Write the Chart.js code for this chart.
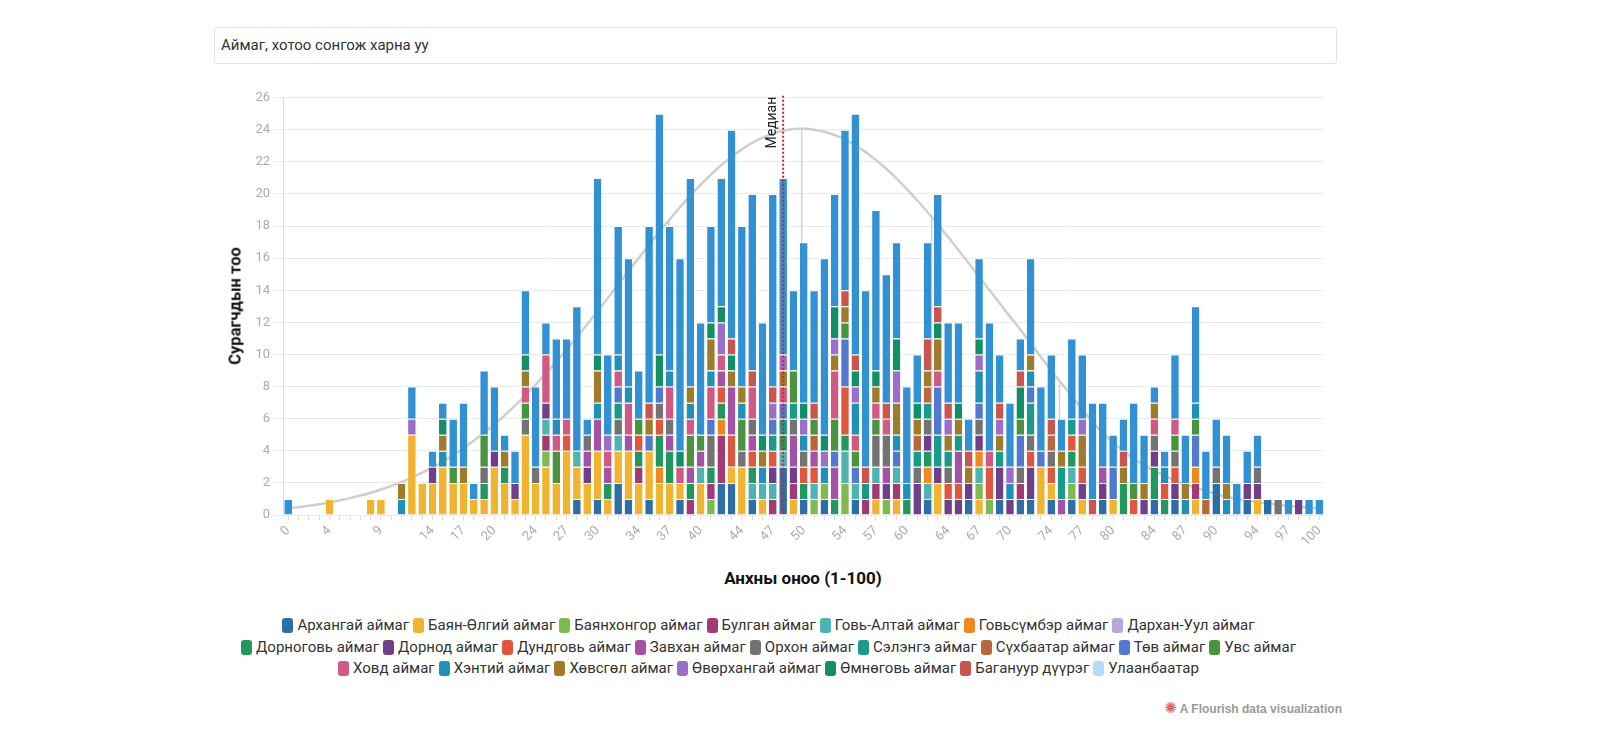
<!DOCTYPE html>
<html><head><meta charset="utf-8">
<script src="https://cdn.jsdelivr.net/npm/chart.js@4.4.0/dist/chart.umd.min.js"></script>
<style>
html,body{margin:0;padding:0;background:#fff;width:1600px;height:738px;overflow:hidden;font-family:Roboto,"Noto Sans",sans-serif;}
#filter{position:absolute;left:214px;top:27px;width:1123px;height:37px;border:1px solid #e4e4e4;border-radius:3px;box-sizing:border-box;font-size:15px;line-height:35px;padding-left:6px;color:#333;}
#wrap{position:absolute;left:214px;top:80px;width:1123px;height:470px;}
#ytitle{position:absolute;left:235px;top:306px;transform:translate(-50%,-50%) rotate(-90deg);font-weight:bold;font-size:16.5px;color:#111;white-space:nowrap;}
#xtitle{position:absolute;left:803px;top:578px;transform:translate(-50%,-50%);font-weight:bold;font-size:17px;color:#111;white-space:nowrap;}
#legend{position:absolute;left:207px;top:615px;width:1123px;font-size:15px;color:#333;}
.row{display:flex;justify-content:center;height:21.5px;line-height:21.5px;}
.item{display:flex;align-items:center;margin:0 2px;white-space:nowrap;}
.sw{display:inline-block;width:11px;height:15px;border-radius:3px;margin-right:4px;}
#foot{position:absolute;right:258px;top:699px;font-family:"Liberation Sans",Arial,sans-serif;font-weight:bold;font-size:12px;color:#9a9a9a;}
#foot span{color:#e06060;font-family:"DejaVu Sans";font-size:15px;margin-right:3px;}
</style></head>
<body>
<div id="filter">Аймаг, хотоо сонгож харна уу</div>
<div id="wrap"><canvas id="c" width="1123" height="470"></canvas></div>
<div id="ytitle">Сурагчдын тоо</div>
<div id="xtitle">Анхны оноо (1-100)</div>
<div id="legend"></div>
<div id="foot"><span>✺</span>A Flourish data visualization</div>
<script>
const scores = [0,1,2,3,4,5,6,7,8,9,10,11,12,13,14,15,16,17,18,19,20,21,22,23,24,25,26,27,28,29,30,31,32,33,34,35,36,37,38,39,40,41,42,43,44,45,46,47,48,49,50,51,52,53,54,55,56,57,58,59,60,61,62,63,64,65,66,67,68,69,70,71,72,73,74,75,76,77,78,79,80,81,82,83,84,85,86,87,88,89,90,91,92,93,94,95,96,97,98,99,100];
const shownTicks = [0,4,9,14,17,20,24,27,30,34,37,40,44,47,50,54,57,60,64,67,70,74,77,80,84,87,90,94,97,100];

// [score, count] per region
const arkhangai = [[28,1],[30,1],[32,2],[33,1],[35,1],[38,1],[42,2],[43,2],[45,1],[48,3],[50,1],[52,1],[55,1],[62,1],[66,1],[69,1],[71,1],[72,1],[74,1],[76,1],[79,1],[84,1],[86,1],[90,2],[93,1],[95,1]];
const bayanOlgii = [[4,1],[8,1],[9,1],[12,5],[13,2],[14,2],[15,3],[16,2],[17,2],[18,1],[19,1],[20,3],[21,2],[22,1],[23,5],[24,2],[25,3],[26,2],[27,4],[28,2],[29,2],[30,3],[31,1],[32,2],[33,3],[34,2],[35,3],[36,2],[37,2],[38,1],[40,2],[43,1],[44,3],[46,1],[49,1],[57,1],[59,1],[63,2],[67,1],[73,3],[74,1],[77,1],[80,1],[88,1],[94,1]];
const bayankhongor = [[25,1],[41,1],[51,1],[52,1],[54,2],[58,1],[67,1],[68,1],[76,1]];
const bulgan = [[25,1],[34,1],[39,1],[41,1],[42,3],[47,1],[49,1],[56,1],[57,1],[59,1],[71,1],[88,1]];
const goviAltai = [[25,1],[28,1],[32,1],[40,1],[45,1],[46,1],[47,1],[48,1],[51,1],[54,2],[55,1],[57,1],[59,1],[62,1],[67,1],[76,1]];
const govisumber = [[36,1],[42,1],[62,1],[67,1],[88,1]];
const darkhanUul = [];
const dornogovi = [[19,1],[21,1],[31,1],[34,1],[36,2],[37,2],[39,1],[41,1],[42,1],[45,1],[48,1],[50,1],[53,1],[54,1],[60,1],[62,1],[76,1],[81,2],[84,2],[85,1]];
const dornod = [[14,1],[20,1],[22,1],[25,1],[29,1],[47,1],[49,1],[58,1],[61,2],[62,1],[63,1],[64,1],[65,1],[66,1],[67,1],[69,2],[70,1],[72,2],[77,1],[79,1],[83,1],[84,1],[86,1],[93,1],[94,1],[98,1]];
const dundgovi = [[27,1],[34,1],[36,1],[42,1],[43,2],[45,1],[47,1],[50,1],[51,1],[54,3],[64,1],[65,1],[68,2],[72,1],[74,1],[76,1],[77,1],[82,1],[85,1],[86,1]];
const zavkhan = [[29,1],[30,2],[31,1],[33,1],[37,1],[39,1],[40,1],[42,1],[43,3],[45,1],[49,2],[51,1],[53,2],[58,1],[65,2],[75,1],[79,1]];
const orkhon = [[19,1],[23,1],[24,1],[29,1],[32,1],[36,1],[37,1],[41,2],[44,1],[45,1],[49,1],[50,1],[57,2],[58,2],[61,1],[62,1],[64,1],[67,1],[71,1],[72,1],[74,1],[84,1],[86,1],[90,1],[94,1],[96,1]];
const selenge = [[32,1],[47,1],[48,1],[49,1],[56,1],[61,1],[62,1],[63,2],[64,1],[65,1],[69,1],[72,2],[75,2],[76,1]];
const sukhbaatar = [[51,1],[61,1],[62,1],[74,1],[89,1]];
const tov = [[32,1],[35,1],[36,1],[41,1],[47,1],[48,1],[53,1],[54,3],[55,1],[59,1],[63,3],[67,1],[71,2],[72,1],[73,1],[80,2],[88,2]];
const uvs = [[16,1],[19,2],[23,1],[26,2],[34,1],[39,2],[40,1],[44,2],[49,2],[51,1],[53,2],[54,1],[55,1],[57,1],[71,1],[82,1],[86,1],[88,1]];
const khovd = [[23,1],[25,3],[26,1],[27,1],[31,1],[32,1],[33,2],[37,2],[38,1],[39,1],[41,2],[42,1],[45,2],[48,1],[53,3],[55,1],[57,1],[58,1],[63,1],[68,1],[84,1],[86,1]];
const khentii = [[11,1],[15,1],[26,1],[30,1],[32,1],[33,1],[37,1],[39,1],[41,1],[44,1],[46,1],[50,1],[52,1],[55,2],[59,1],[60,1],[67,2],[70,1],[72,1],[85,1],[87,1],[88,1],[91,1]];
const khovsgol = [[11,1],[15,1],[17,1],[21,1],[23,1],[30,2],[35,1],[39,1],[41,2],[43,1],[44,1],[46,1],[48,1],[53,1],[54,1],[57,1],[59,2],[61,1],[62,1],[63,2],[64,1],[65,1],[66,1],[69,1],[72,1],[75,1],[77,2],[81,1],[83,1],[84,1],[87,1],[91,1]];
const ovorkhangai = [[12,1],[31,1],[42,2],[47,1],[48,1],[50,1],[52,1],[53,1],[55,1],[59,2],[64,1],[67,1],[69,1],[70,1],[77,1]];
const omnogovi = [[15,1],[23,1],[30,1],[36,2],[38,1],[41,1],[42,1],[43,1],[46,1],[50,1],[52,1],[53,2],[55,1],[57,1],[59,2],[61,1],[63,1],[65,1],[67,1],[71,2]];
const baganuur = [[35,1],[43,1],[45,1],[47,1],[51,1],[54,1],[55,1],[56,1],[58,1],[62,2],[63,1],[64,1],[66,1],[69,1],[71,1],[74,1],[78,1],[81,1]];
const ulaanbaatar = [[0,1],[12,2],[14,1],[15,1],[16,3],[17,4],[18,1],[19,4],[20,4],[21,1],[22,2],[23,4],[24,5],[25,2],[26,5],[27,5],[28,9],[29,1],[30,11],[31,5],[32,8],[33,8],[34,3],[35,11],[36,15],[37,9],[38,12],[39,13],[40,7],[41,6],[42,8],[43,13],[44,10],[45,11],[46,7],[47,12],[48,11],[49,5],[50,10],[51,7],[52,11],[53,7],[54,10],[55,15],[56,11],[57,10],[58,8],[59,6],[60,6],[61,3],[62,6],[63,7],[64,5],[65,5],[66,2],[67,5],[68,8],[69,3],[70,4],[71,2],[72,6],[73,4],[74,4],[75,2],[76,5],[77,4],[78,6],[79,4],[80,2],[81,2],[82,5],[83,3],[84,1],[85,1],[86,4],[87,3],[88,6],[89,3],[90,3],[91,3],[92,2],[93,2],[94,2],[97,1],[99,1],[100,1]];

// fitted curve
const curveValues = [0.42,0.49,0.58,0.67,0.78,0.91,1.05,1.21,1.39,1.59,
1.81,2.06,2.33,2.64,2.97,3.33,3.73,4.16,4.62,5.12,
5.65,6.21,6.81,7.45,8.12,8.82,9.55,10.30,11.08,11.88,
12.69,13.52,14.35,15.18,16.01,16.83,17.64,18.42,19.18,19.90,
20.58,21.21,21.80,22.32,22.78,23.18,23.51,23.76,23.94,24.05,
24.07,24.01,23.88,23.67,23.39,23.03,22.61,22.12,21.57,20.96,
20.31,19.61,18.88,18.11,17.32,16.51,15.68,14.85,14.02,13.19,
12.36,11.56,10.7,9.85,9.0,8.2,7.4,6.6,5.8,5.1,
4.5,4.0,3.5,3.1,2.75,2.45,2.15,1.9,1.7,1.5,
1.3,1.15,1.0,0.9,0.8,0.72,0.65,0.57,0.51,0.46,0.42];
const guideX = [36.9, 49.8, 62.4, 74.8];
const medianScore = 48;

const regionNames = ["Архангай аймаг","Баян-Өлгий аймаг","Баянхонгор аймаг","Булган аймаг","Говь-Алтай аймаг","Говьсүмбэр аймаг","Дархан-Уул аймаг","Дорноговь аймаг","Дорнод аймаг","Дундговь аймаг","Завхан аймаг","Орхон аймаг","Сэлэнгэ аймаг","Сүхбаатар аймаг","Төв аймаг","Увс аймаг","Ховд аймаг","Хэнтий аймаг","Хөвсгөл аймаг","Өвөрхангай аймаг","Өмнөговь аймаг","Багануур дүүрэг","Улаанбаатар"];
const regionColors = ["#2d6ea6","#f0b430","#7fba4e","#a23a76","#4fb3b0","#ec8a1f","#b3aad9","#24975f","#6f3f8a","#e0573f","#a452a5","#737373","#1a9a8a","#b8683c","#5279cf","#4a933f","#d15a84","#2190b8","#9e7c2c","#9b6ecb","#138f68","#c9554f","#3191d3"];
const legendSwatch = ["#2d6ea6","#f0b430","#7fba4e","#a23a76","#4fb3b0","#ec8a1f","#b3aad9","#24975f","#6f3f8a","#e0573f","#a452a5","#737373","#1a9a8a","#b8683c","#5279cf","#4a933f","#d15a84","#2190b8","#9e7c2c","#9b6ecb","#138f68","#c9554f","#b5dcf2"];
const regionData = [arkhangai,bayanOlgii,bayankhongor,bulgan,goviAltai,govisumber,darkhanUul,dornogovi,dornod,dundgovi,zavkhan,orkhon,selenge,sukhbaatar,tov,uvs,khovd,khentii,khovsgol,ovorkhangai,omnogovi,baganuur,ulaanbaatar];
const legendRows = [[0,1,2,3,4,5,6],[7,8,9,10,11,12,13,14,15],[16,17,18,19,20,21,22]];

function expand(pairs){const a=scores.map(()=>0);pairs.forEach(p=>{a[scores.indexOf(p[0])]=p[1];});return a;}

const barSets = regionNames.map((n,i)=>({
  type:'bar', label:n, data:expand(regionData[i]), backgroundColor:regionColors[i],
  borderColor:'#ffffff', borderWidth:{top:1,left:0,right:0,bottom:0}, borderSkipped:false,
  categoryPercentage:1.0, barPercentage:0.74, order:1
}));
const curveSet = {type:'line', label:'curve', data:curveValues, borderColor:'#cfcfcf', borderWidth:2.5,
  pointRadius:0, tension:0.4, fill:false, order:100};

function pxFor(xs, v){const i=Math.floor(v), f=v-i;const a=xs.getPixelForValue(i), b=xs.getPixelForValue(i+1);return a+(b-a)*f;}
function curveAt(v){const i=Math.floor(v), f=v-i;return curveValues[i]+(curveValues[i+1]-curveValues[i])*f;}

const guidePlugin = {id:'guides', beforeDatasetsDraw(chart){
  const {ctx, scales:{x:xs,y:ys}} = chart;
  ctx.save(); ctx.strokeStyle='#d2d2d2'; ctx.lineWidth=1.5;
  guideX.forEach(g=>{const px=pxFor(xs,g);ctx.beginPath();ctx.moveTo(px,ys.getPixelForValue(curveAt(g)));ctx.lineTo(px,ys.getPixelForValue(0));ctx.stroke();});
  ctx.restore();
}};
const medianPlugin = {id:'median', afterDatasetsDraw(chart){
  const {ctx, chartArea, scales:{x:xs,y:ys}} = chart;
  const px = xs.getPixelForValue(scores.indexOf(medianScore));
  ctx.save(); ctx.strokeStyle='#d9202a'; ctx.lineWidth=2; ctx.setLineDash([2,2]);
  ctx.beginPath(); ctx.moveTo(px, chartArea.top-2); ctx.lineTo(px, ys.getPixelForValue(0)); ctx.stroke();
  ctx.setLineDash([]);
  ctx.translate(px-11, chartArea.top-1); ctx.rotate(-Math.PI/2);
  ctx.font='14px Roboto'; ctx.fillStyle='#222'; ctx.textAlign='right'; ctx.textBaseline='middle';
  ctx.fillText('Медиан',0,0);
  ctx.restore();
}};

new Chart(document.getElementById('c'), {
  type:'bar',
  data:{labels:scores.map(String), datasets:[...barSets, curveSet]},
  options:{
    responsive:false, animation:false,
    layout:{padding:{top:17.7,right:12.5,left:0,bottom:0}},
    plugins:{legend:{display:false}, tooltip:{enabled:false}},
    scales:{
      x:{stacked:true,
        grid:{display:true,drawOnChartArea:false,offset:false,tickLength:5,color:'#dcdcdc'},
        border:{display:false},
        ticks:{autoSkip:false,maxRotation:45,minRotation:45,color:'#aaaaaa',font:{family:'Roboto',size:13},padding:3,
          callback:(v,i)=>shownTicks.includes(scores[i])?String(scores[i]):''},
        afterFit:(s)=>{s.height=35;}},
      y:{stacked:true,min:0,max:26,
        ticks:{stepSize:2,color:'#aaaaaa',font:{family:'Roboto',size:13},padding:3},
        grid:{color:'#ebebeb',tickLength:10},
        border:{display:true,color:'#dddddd'},
        afterFit:(s)=>{s.width=69;}}
    }
  },
  plugins:[guidePlugin, medianPlugin]
});

const lg = document.getElementById('legend');
legendRows.forEach(r=>{
  const row=document.createElement('div'); row.className='row';
  r.forEach(i=>{const it=document.createElement('div');it.className='item';
    it.innerHTML='<span class="sw" style="background:'+legendSwatch[i]+'"></span>'+regionNames[i];
    row.appendChild(it);});
  lg.appendChild(row);
});
</script>
</body></html>
